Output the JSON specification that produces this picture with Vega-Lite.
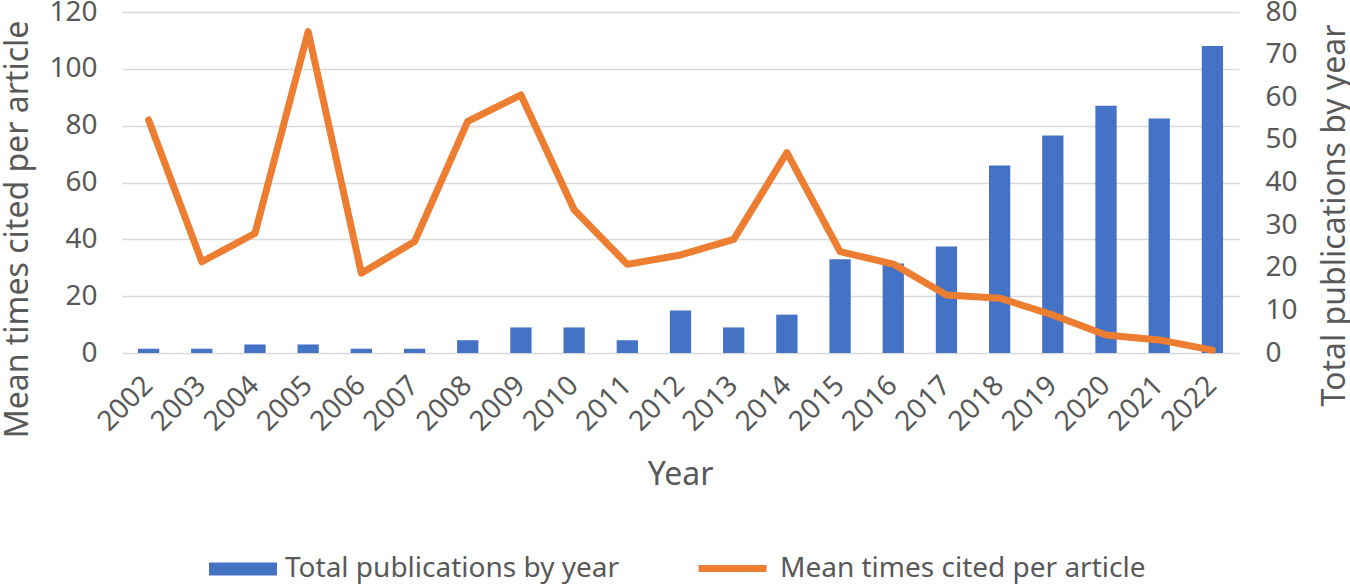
{
  "$schema": "https://vega.github.io/schema/vega-lite/v6.json",
  "width": 1117,
  "height": 341,
  "autosize": {"type": "none"},
  "padding": {"left": 122, "top": 12, "right": 111, "bottom": 232},
  "background": "white",
  "config": {
    "view": {"stroke": null},
    "font": "Noto Sans",
    "axis": {
      "labelColor": "#595959",
      "titleColor": "#595959",
      "domain": false,
      "ticks": false,
      "labelFont": "Noto Sans",
      "titleFont": "Noto Sans",
      "titleFontWeight": "normal",
      "labelFontSize": 28,
      "titleFontSize": 32
    },
    "legend": {
      "labelFont": "Noto Sans",
      "labelFontSize": 28,
      "labelColor": "#595959",
      "labelLimit": 0,
      "padding": 0,
      "labelOffset": 8,
      "symbolSize": 4624,
      "orient": "none"
    }
  },
  "data": {
    "values": [
      {"year": "2002", "pubs": 1, "cited": 82},
      {"year": "2003", "pubs": 1, "cited": 32.1},
      {"year": "2004", "pubs": 2, "cited": 42.1},
      {"year": "2005", "pubs": 2, "cited": 113.1},
      {"year": "2006", "pubs": 1, "cited": 28.1},
      {"year": "2007", "pubs": 1, "cited": 39.2},
      {"year": "2008", "pubs": 3, "cited": 81.5},
      {"year": "2009", "pubs": 6, "cited": 90.8},
      {"year": "2010", "pubs": 6, "cited": 50.4},
      {"year": "2011", "pubs": 3, "cited": 31.2},
      {"year": "2012", "pubs": 10, "cited": 34.5},
      {"year": "2013", "pubs": 6, "cited": 40},
      {"year": "2014", "pubs": 9, "cited": 70.5},
      {"year": "2015", "pubs": 22, "cited": 35.7},
      {"year": "2016", "pubs": 21, "cited": 31.3},
      {"year": "2017", "pubs": 25, "cited": 20.4},
      {"year": "2018", "pubs": 44, "cited": 19.3},
      {"year": "2019", "pubs": 51, "cited": 13.4},
      {"year": "2020", "pubs": 58, "cited": 6.3},
      {"year": "2021", "pubs": 55, "cited": 4.6},
      {"year": "2022", "pubs": 72, "cited": 1}
    ]
  },
  "encoding": {
    "x": {
      "field": "year",
      "type": "ordinal",
      "scale": {"paddingInner": 0.6, "paddingOuter": 0.3},
      "axis": {
        "title": "Year",
        "labelAngle": -45,
        "labelAlign": "right",
        "labelBaseline": "middle",
        "labelPadding": 28,
        "labelDx": 6,
        "titleX": 558,
        "titleY": 121,
        "titleBaseline": "middle",
        "titleAlign": "center"
      }
    }
  },
  "layer": [
    {
      "mark": {"type": "bar", "color": "#4472C4"},
      "encoding": {
        "y": {
          "field": "pubs",
          "type": "quantitative",
          "scale": {"domain": [0, 80], "nice": false},
          "axis": {
            "orient": "right",
            "title": "Total publications by year",
            "values": [0, 10, 20, 30, 40, 50, 60, 70, 80],
            "grid": false,
            "labelPadding": 26,
            "labelAlign": "left",
            "titleAngle": 270,
            "titleX": 95,
            "titleY": 203,
            "titleAlign": "center",
            "titleBaseline": "middle"
          }
        },
        "color": {
          "datum": "Total publications by year",
          "scale": {"range": ["#4472C4"]},
          "legend": {
            "title": null,
            "symbolType": "M-1,-0.19H1V0.19H-1Z",
            "symbolStrokeWidth": 0,
            "legendX": 87,
            "legendY": 523
          }
        }
      }
    },
    {
      "mark": {"type": "line", "color": "#ED7D31", "strokeWidth": 7, "strokeCap": "round", "strokeJoin": "round"},
      "encoding": {
        "y": {
          "field": "cited",
          "type": "quantitative",
          "scale": {"domain": [0, 120], "nice": false},
          "axis": {
            "orient": "left",
            "title": "Mean times cited per article",
            "values": [0, 20, 40, 60, 80, 100, 120],
            "grid": true,
            "gridColor": "#D9D9D9",
            "gridWidth": 1.5,
            "labelPadding": 25,
            "titleAngle": 270,
            "titleX": -105,
            "titleY": 217,
            "titleAlign": "center",
            "titleBaseline": "middle"
          }
        },
        "stroke": {
          "datum": "Mean times cited per article",
          "scale": {"range": ["#ED7D31"]},
          "legend": {
            "title": null,
            "symbolStrokeWidth": 7,
            "labelOffset": 10,
            "legendX": 573,
            "legendY": 519
          }
        }
      }
    }
  ],
  "resolve": {"scale": {"y": "independent"}}
}
